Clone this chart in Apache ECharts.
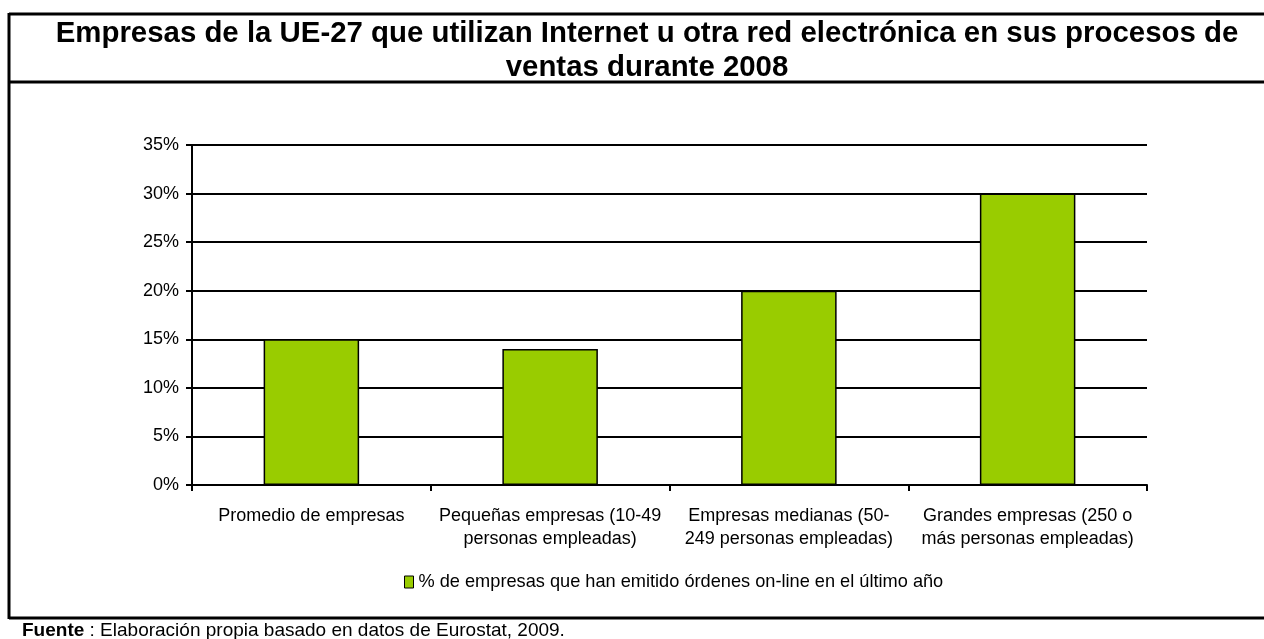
<!DOCTYPE html>
<html>
<head>
<meta charset="utf-8">
<script src="https://cdn.jsdelivr.net/npm/echarts@6/dist/echarts.min.js"></script>
<style>
html,body{margin:0;padding:0;background:#fff;}
#chart{width:1264px;height:639px;}
</style>
</head>
<body>
<div id="chart"></div>
<script>
const categories = [
  'Promedio de empresas',
  'Pequeñas empresas (10-49\npersonas empleadas)',
  'Empresas medianas (50-\n249 personas empleadas)',
  'Grandes empresas (250 o\nmás personas empleadas)'
];
const values = [15, 14, 20, 30];
const seriesName = '% de empresas que han emitido órdenes on-line en el último año';
const titleText = 'Empresas de la UE-27 que utilizan Internet u otra red electrónica en sus procesos de\nventas durante 2008';

const chart = echarts.init(document.getElementById('chart'));
const F = 'Liberation Sans, Arial, sans-serif';
chart.setOption({
  animation: false,
  title: {
    text: titleText,
    left: 642, top: 12, textAlign: 'center',
    textStyle: {fontFamily: F, fontSize: 29.4, fontWeight: 'bold', color: '#000', lineHeight: 34}
  },
  legend: {
    data: [seriesName],
    top: 568, left: 399,
    icon: 'rect', itemWidth: 9, itemHeight: 12, itemGap: 6,
    textStyle: {fontFamily: F, fontSize: 18.2, color: '#000'},
    itemStyle: {borderColor: '#000', borderWidth: 1}
  },
  grid: {left: 192, right: 117, top: 145, bottom: 154, containLabel: false},
  xAxis: {
    type: 'category', data: categories,
    axisLine: {lineStyle: {color: '#000', width: 2}},
    axisTick: {show: true, length: 6, lineStyle: {color: '#000', width: 2}},
    axisLabel: {fontFamily: F, fontSize: 18, color: '#000', lineHeight: 23, margin: 20, interval: 0}
  },
  yAxis: {
    type: 'value', min: 0, max: 35, interval: 5,
    axisLine: {show: true, lineStyle: {color: '#000', width: 2}},
    axisTick: {show: true, length: 6, lineStyle: {color: '#000', width: 2}},
    axisLabel: {fontFamily: F, fontSize: 18, color: '#000', formatter: '{value}%', margin: 13},
    splitLine: {lineStyle: {color: '#000', width: 2}}
  },
  series: [{
    name: seriesName, type: 'bar', data: values,
    barCategoryGap: '60%',
    itemStyle: {color: '#99CC00', borderColor: '#000', borderWidth: 1.5}
  }],
  graphic: [
    {type: 'line', shape: {x1: 9, y1: 14, x2: 1264, y2: 14}, style: {stroke: '#000', lineWidth: 3}},
    {type: 'line', shape: {x1: 9, y1: 82, x2: 1264, y2: 82}, style: {stroke: '#000', lineWidth: 3}},
    {type: 'line', shape: {x1: 9, y1: 618, x2: 1264, y2: 618}, style: {stroke: '#000', lineWidth: 3}},
    {type: 'line', shape: {x1: 9, y1: 13, x2: 9, y2: 619}, style: {stroke: '#000', lineWidth: 3}},
    {type: 'text', left: 22, top: 621, style: {
      text: '{b|Fuente} : Elaboración propia basado en datos de Eurostat, 2009.',
      rich: {b: {fontFamily: F, fontSize: 19, fontWeight: 'bold', fill: '#000'}},
      font: '19px Liberation Sans, Arial, sans-serif', fill: '#000'
    }}
  ]
});
</script>
</body>
</html>
